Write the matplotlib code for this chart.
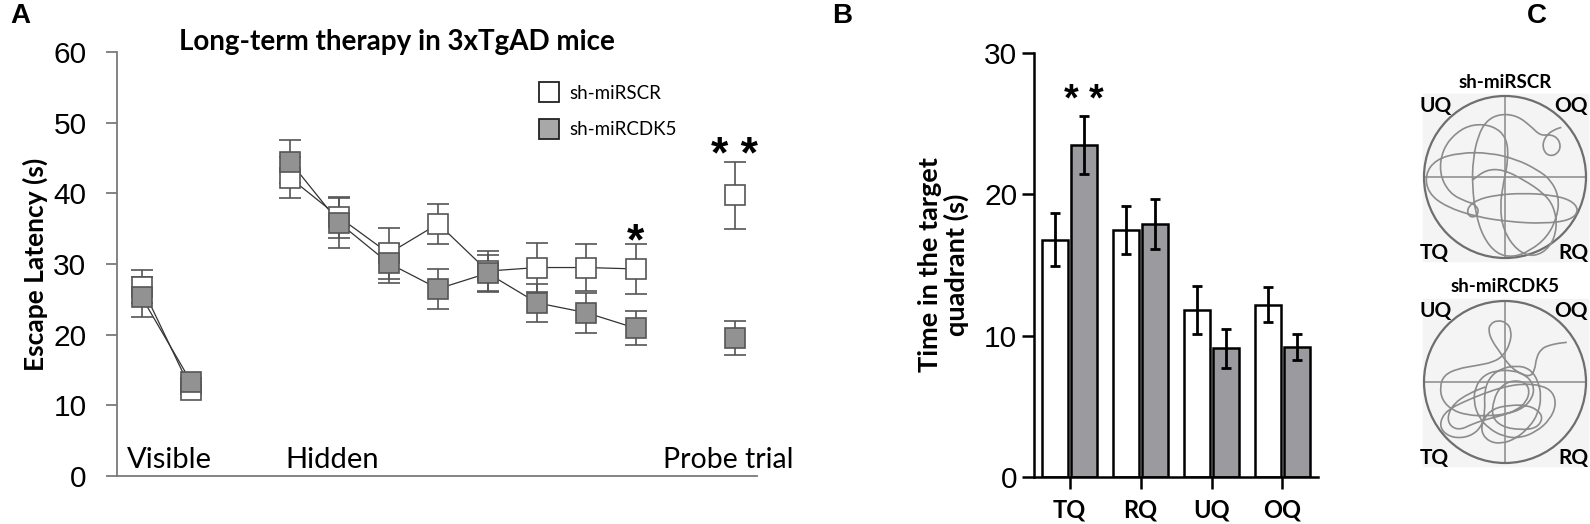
import numpy as np
import matplotlib
matplotlib.use('Agg')
import matplotlib.pyplot as plt
from matplotlib.lines import Line2D
from matplotlib.path import Path
from matplotlib.patches import PathPatch, Circle, Rectangle

# ---------------- data ----------------
# Panel A: escape latency (s), mean and SEM
day_visible = [0, 1]
day_hidden = [3, 4, 5, 6, 7, 8, 9, 10]
day_probe = [12]

scr_visible = [26.8, 12.2]
scr_visible_err = [2.3, 0.6]
cdk_visible = [25.3, 13.3]
cdk_visible_err = [2.8, 0.6]

scr_hidden = [42.2, 36.6, 31.5, 35.7, 29.0, 29.5, 29.5, 29.3]
scr_hidden_err = [2.9, 2.9, 3.6, 2.8, 2.8, 3.5, 3.3, 3.5]
cdk_hidden = [44.5, 35.8, 30.1, 26.5, 28.7, 24.5, 23.1, 20.9]
cdk_hidden_err = [3.0, 3.6, 2.8, 2.8, 2.6, 2.7, 2.8, 2.4]

scr_probe = [39.7]
scr_probe_err = [4.7]
cdk_probe = [19.5]
cdk_probe_err = [2.4]

# Panel B: time in quadrant (s)
quadrants = ['TQ', 'RQ', 'UQ', 'OQ']
scr_quad = [16.8, 17.5, 11.8, 12.2]
scr_quad_err = [1.9, 1.7, 1.7, 1.25]
cdk_quad = [23.5, 17.9, 9.1, 9.2]
cdk_quad_err = [2.05, 1.8, 1.4, 0.9]

# Panel C: traced swim paths, each in its own tracing grid (centre x, centre y, radius; y down)
grid_scr = (345, 352, 240)
track_scr = [(512,205),(495,210),(470,225),(455,255),(465,285),(490,290),(510,270),(505,240),
             (480,225),(450,230),(420,200),(380,170),(330,165),(290,185),(265,230),(250,300),
             (248,380),(258,460),(280,530),(320,580),(370,590),(420,570),(470,530),(500,470),
             (505,410),(480,360),(440,330),(380,300),(300,280),(210,280),(140,300),(108,345),
             (118,400),(170,440),(260,470),(360,485),(460,490),(540,480),(565,450),(540,420),
             (480,405),(400,400),(320,405),(260,420),(232,445),(238,470),(260,470),(268,448),
             (250,430),(230,425),(180,400),(150,340),(160,270),(200,220),(250,195),(310,200),
             (350,235),(355,300),(340,370),(330,440),(340,510),(380,570),(430,590),(480,560),
             (500,500),(490,440),(460,400),(400,360),(340,330),(290,330),(250,360)]
grid_cdk = (285, 275, 245)
track_cdk = [(472,155),(445,158),(415,165),(395,175),(380,200),(375,240),(360,260),(320,245),
             (290,215),(270,185),(245,150),(235,120),(240,100),(262,88),(290,95),(305,120),
             (300,160),(280,195),(250,215),(200,225),(140,235),(100,255),(88,290),(95,330),
             (125,360),(170,375),(230,378),(290,372),(340,355),(370,320),(372,285),(350,255),
             (310,240),(260,240),(220,255),(195,290),(190,335),(205,380),(235,415),(280,440),
             (330,445),(380,425),(420,390),(440,345),(430,305),(395,285),(340,280),(280,290),
             (220,310),(160,335),(110,360),(88,395),(95,425),(130,445),(180,440),(215,410),
             (225,360),(222,310),(235,265),(270,235),(320,225),(360,235),(385,270),(395,320),
             (385,370),(360,410),(320,445),(275,462),(235,455),(212,425),(220,385),(250,355),
             (300,345),(350,345),(385,360),(400,385),(380,415),(330,420),(275,410),(245,380),
             (250,330),(270,290),(305,270),(345,275),(360,300),(350,335),(320,360),(280,375),
             (240,385),(190,400),(150,420),(120,410),(110,380),(130,340),(175,310),(225,290)]

# ---------------- style ----------------
NUM_FONT = 'Liberation Sans'
TXT_FONT = 'Lato'
GRAY_FILL = '#929292'
BAR_GRAY = '#9b9b9f'
AX_GRAY = '#7a7a7a'

fig = plt.figure(figsize=(15.9, 5.24), dpi=100)

# ================= Panel A =================
ax1 = fig.add_axes([117/1590, 1-476/524, 640/1590, 424/524])
ax1.set_xlim(-0.5, 12.45)
ax1.set_ylim(0, 60)

mk = dict(marker='s', markersize=15, markeredgecolor='#555555', markeredgewidth=1.2, linestyle='none')
eb = dict(fmt='none', ecolor='#555555', elinewidth=1.2, capsize=8, capthick=1.2, zorder=2)

for xs, ys in [(day_visible, scr_visible), (day_hidden, scr_hidden),
               (day_visible, cdk_visible), (day_hidden, cdk_hidden)]:
    ax1.plot(xs, ys, color='#333333', lw=0.9, zorder=2)

for xs, ys, es in [(day_visible, scr_visible, scr_visible_err), (day_hidden, scr_hidden, scr_hidden_err),
                   (day_probe, scr_probe, scr_probe_err), (day_visible, cdk_visible, cdk_visible_err),
                   (day_hidden, cdk_hidden, cdk_hidden_err), (day_probe, cdk_probe, cdk_probe_err)]:
    ax1.errorbar(xs, ys, yerr=es, **eb)

ax1.plot(day_visible + day_hidden + day_probe, scr_visible + scr_hidden + scr_probe,
         markerfacecolor='white', zorder=3, **mk)
ax1.plot(day_visible + day_hidden + day_probe, cdk_visible + cdk_hidden + cdk_probe,
         markerfacecolor=GRAY_FILL, zorder=4, **mk)

for s in ['top', 'right']:
    ax1.spines[s].set_visible(False)
for s in ['left', 'bottom']:
    ax1.spines[s].set_color(AX_GRAY)
    ax1.spines[s].set_linewidth(1.3)
ax1.set_xticks([])
ax1.set_yticks(range(0, 61, 10))
ax1.tick_params(axis='y', length=8, width=1.3, color=AX_GRAY, labelsize=21.5, pad=14)
for lab in ax1.get_yticklabels():
    lab.set_fontfamily(NUM_FONT)
ax1.set_ylabel('Escape Latency (s)', fontsize=19, fontweight='bold', fontfamily=TXT_FONT, labelpad=4)

ax1.text(-0.3, 1.1, 'Visible', fontsize=21, fontfamily=TXT_FONT)
ax1.text(2.9, 1.1, 'Hidden', fontsize=21, fontfamily=TXT_FONT)
ax1.text(10.55, 1.1, 'Probe trial', fontsize=20.5, fontfamily=TXT_FONT, clip_on=False)

# significance marks (baseline placed so the glyph sits just above the error bar)
ax1.text(day_hidden[-1], 31.3, '*', fontsize=32, fontweight='bold', ha='center',
         va='baseline', fontfamily=NUM_FONT)
ax1.text(day_probe[0], 43.6, '* *', fontsize=32, fontweight='bold', ha='center',
         va='baseline', fontfamily=NUM_FONT)

handles = [Line2D([], [], marker='s', markersize=15, markerfacecolor='white',
                  markeredgecolor='#222222', markeredgewidth=1.3, linestyle='none'),
           Line2D([], [], marker='s', markersize=15, markerfacecolor='#a8a8a8',
                  markeredgecolor='#222222', markeredgewidth=1.3, linestyle='none')]
leg = ax1.legend(handles, ['sh-miRSCR', 'sh-miRCDK5'], loc='upper left',
                 bbox_to_anchor=(0.66, 0.923), frameon=False, handlelength=1.0,
                 handletextpad=0.6, labelspacing=1.05, borderaxespad=0, borderpad=0,
                 prop={'family': TXT_FONT, 'size': 13.5})

fig.text(397/1590, 1-42/524, 'Long-term therapy in 3xTgAD mice', ha='center', va='center',
         fontsize=20, fontweight='bold', fontfamily=TXT_FONT)

# ================= Panel B =================
ax2 = fig.add_axes([1034/1590, 1-477/524, 284/1590, 424/524])
xq = np.arange(len(quadrants))
err_kw = dict(elinewidth=2, capsize=3.3, capthick=2, ecolor='black')
ax2.bar(xq - 0.205, scr_quad, width=0.37, color='white', edgecolor='black', linewidth=1.8,
        yerr=scr_quad_err, error_kw=err_kw, zorder=2)
ax2.bar(xq + 0.205, cdk_quad, width=0.37, color=BAR_GRAY, edgecolor='black', linewidth=1.8,
        yerr=cdk_quad_err, error_kw=err_kw, zorder=2)
ax2.set_xlim(-0.5, 3.5)
ax2.set_ylim(0, 30)
ax2.set_yticks([0, 10, 20, 30])
ax2.set_xticks(xq)
ax2.set_xticklabels(quadrants, fontsize=17, fontweight='bold', fontfamily=TXT_FONT)
for lab in ax2.get_yticklabels():
    lab.set_fontfamily(NUM_FONT)
ax2.tick_params(axis='y', length=8.6, width=1.8, labelsize=21.5, pad=3.5)
ax2.tick_params(axis='x', length=8.6, width=1.8, pad=7)
for s in ['top', 'right']:
    ax2.spines[s].set_visible(False)
for s in ['left', 'bottom']:
    ax2.spines[s].set_linewidth(1.8)
ax2.set_ylabel('Time in the target\nquadrant (s)', fontsize=19.5, fontweight='bold',
               fontfamily=TXT_FONT, labelpad=11, linespacing=1.05)
ax2.text(xq[0] + 0.205, 25.9, '* *', fontsize=27, fontweight='bold', ha='center',
         va='baseline', fontfamily=NUM_FONT)

# ================= Panel C =================
# overlay axes in figure pixel units (y down) for the two pool drawings
ax3 = fig.add_axes([0, 0, 1, 1], facecolor='none', zorder=-1)
ax3.set_xlim(0, 1590)
ax3.set_ylim(524, 0)
ax3.axis('off')


def smooth_path(pts):
    # quadratic bezier through midpoints of the traced waypoints
    pts = np.asarray(pts, float)
    mids = (pts[:-1] + pts[1:]) / 2
    verts = [pts[0], mids[0]]
    codes = [Path.MOVETO, Path.LINETO]
    for i in range(1, len(pts) - 1):
        verts += [pts[i], mids[i]]
        codes += [Path.CURVE3, Path.CURVE3]
    verts.append(pts[-1])
    codes.append(Path.LINETO)
    return Path(verts, codes)


def pool(cy, title, track, grid):
    cx, r = 1505, 81
    gx, gy, gr = grid
    ax3.add_patch(Rectangle((cx - 82, cy - 83), 165, 167, color='#f4f4f4', zorder=0))
    ax3.add_patch(Circle((cx, cy), r, fill=False, ec='#6e6e6e', lw=1.6, zorder=2))
    ax3.plot([cx - r, cx + r], [cy, cy], color='#8a8a8a', lw=1.1, zorder=1)
    ax3.plot([cx, cx], [cy - r, cy + r], color='#8a8a8a', lw=1.1, zorder=1)
    tr = np.asarray(track, float)
    tr = np.column_stack([cx + (tr[:, 0] - gx) / gr * r, cy + (tr[:, 1] - gy) / gr * r])
    ax3.add_patch(PathPatch(smooth_path(tr), fill=False, ec='#8c8c8c', lw=1.2, zorder=3))
    ax3.text(cx, cy - 95, title, ha='center', va='center', fontsize=13.5, fontweight='bold',
             fontfamily=TXT_FONT)
    for lab, dx, dy in [('UQ', -69, -71), ('OQ', 66, -71), ('TQ', -71, 76), ('RQ', 68, 76)]:
        ax3.text(cx + dx, cy + dy, lab, ha='center', va='center', fontsize=15,
                 fontweight='bold', fontfamily=TXT_FONT)


pool(177, 'sh-miRSCR', track_scr, grid_scr)
pool(382, 'sh-miRCDK5', track_cdk, grid_cdk)

# panel letters
for lab, xp in [('A', 10), ('B', 832), ('C', 1527)]:
    fig.text(xp/1590, 1-16/524, lab, ha='left', va='center', fontsize=20, fontweight='bold',
             fontfamily=NUM_FONT)

fig.savefig('out.png', dpi=100)
